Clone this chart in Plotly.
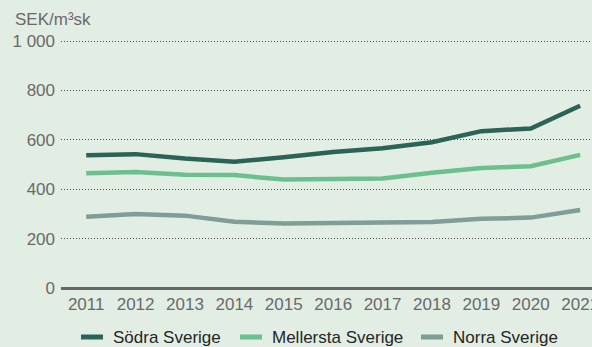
import plotly.graph_objects as go

years = [2011, 2012, 2013, 2014, 2015, 2016, 2017, 2018, 2019, 2020, 2021]
sodra = [537, 542, 524, 511, 529, 551, 566, 590, 635, 646, 738]
mellersta = [465, 470, 459, 457, 439, 443, 443, 467, 486, 493, 539]
norra = [288, 300, 293, 268, 261, 262, 262, 267, 280, 285, 316]

series_names = ["Södra Sverige", "Mellersta Sverige", "Norra Sverige"]
series_colors = ["#2b6356", "#6cc08e", "#7f9e97"]
y_ticks = [0, 200, 400, 600, 800, 1000]

BG = "#e2ede4"
TXT = "#6a6a6a"
FONT = "Liberation Sans, Arial, sans-serif"

W, H = 592, 347
ML, MR, MT, MB = 61, 0, 38, 59
PW, PH = W - ML - MR, H - MT - MB
Y_TOP = 1000 * PH / 247  # keeps 1 000 at pixel row 41


def px_x(px):
    """Pixel column -> paper x."""
    return (px - ML) / PW


def px_y(py):
    """Pixel row -> paper y."""
    return (H - MB - py) / PH


fig = go.Figure()
for name, vals, col in zip(series_names, [sodra, mellersta, norra], series_colors):
    fig.add_trace(go.Scatter(
        x=years, y=vals, name=name, mode="lines",
        line=dict(color=col, width=4.5),
        hoverinfo="skip", showlegend=False,
    ))

# Legend row below the axis: short thick swatch + label per series
legend_swatch_x = [81, 240, 421]
legend_y = 337
shapes = []
annotations = []
for name, col, sx in zip(series_names, series_colors, legend_swatch_x):
    shapes.append(dict(
        type="line", xref="paper", yref="paper",
        x0=px_x(sx), x1=px_x(sx + 22), y0=px_y(legend_y), y1=px_y(legend_y),
        line=dict(color=col, width=5),
    ))
    annotations.append(dict(
        text=name, xref="paper", yref="paper",
        x=px_x(sx + 30), y=px_y(legend_y), xanchor="left", yanchor="middle",
        showarrow=False, font=dict(size=17, color="#252525"),
    ))

annotations.append(dict(
    text="SEK/m³sk", xref="paper", yref="paper",
    x=px_x(13), y=px_y(8), xanchor="left", yanchor="top",
    showarrow=False, font=dict(size=17, color=TXT),
))

fig.update_layout(
    width=W, height=H,
    margin=dict(l=ML, r=MR, t=MT, b=MB, autoexpand=False),
    paper_bgcolor=BG, plot_bgcolor=BG,
    font=dict(family=FONT, size=17, color=TXT),
    separators=", ",
    showlegend=False,
    xaxis=dict(
        range=[2010.49, 2021.24], tickvals=years, ticks="",
        showgrid=False, zeroline=False, showline=False,
        ticklabeloverflow="allow",
        ticklabelstandoff=4, tickfont=dict(size=17, color=TXT),
    ),
    yaxis=dict(
        range=[0, Y_TOP], tickvals=y_ticks, ticks="",
        separatethousands=True,
        showgrid=True, gridcolor="#4a4a4a", gridwidth=1, griddash="1px,2px",
        zeroline=True, zerolinecolor="#666666", zerolinewidth=2.5,
        showline=False, ticklabelstandoff=5, tickfont=dict(size=17, color=TXT),
    ),
    shapes=shapes,
    annotations=annotations,
)

fig.write_html("out.html")
